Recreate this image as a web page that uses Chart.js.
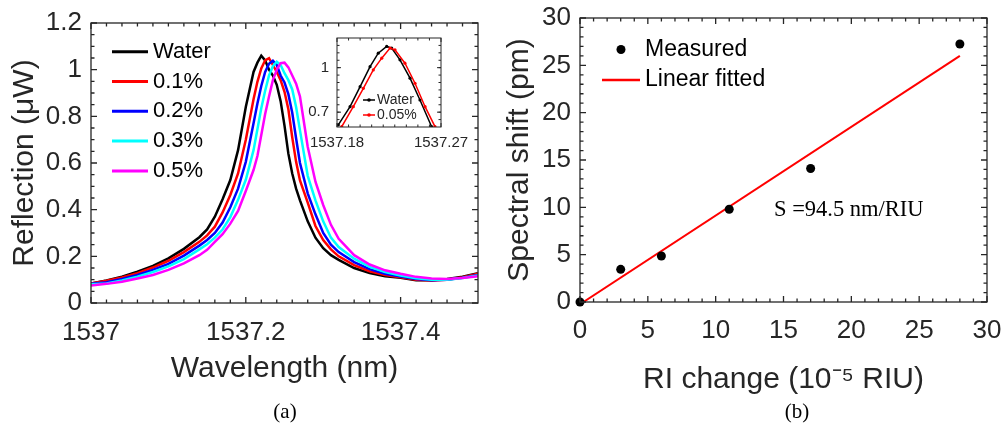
<!DOCTYPE html>
<html>
<head>
<meta charset="utf-8">
<title>Reflection spectra and RI sensitivity</title>
<script src="https://cdn.jsdelivr.net/npm/chart.js@4.4.1/dist/chart.umd.min.js"></script>
<style>
  html, body { margin: 0; padding: 0; background: #fff; }
  #wrap { position: relative; width: 1006px; height: 423px; overflow: hidden; }
  canvas { position: absolute; }
</style>
</head>
<body>
<div id="wrap">
  <canvas id="spectraChart" width="500" height="423" style="left:0;top:0;width:500px;height:423px"></canvas>
  <canvas id="insetChart" width="190" height="135" style="left:285px;top:20px;width:190px;height:135px"></canvas>
  <canvas id="shiftChart" width="506" height="423" style="left:500px;top:0;width:506px;height:423px"></canvas>
</div>
<script>
// ---- panel (a): reflection spectra ----
const wavelength = [1537.00, 1537.02, 1537.04, 1537.06, 1537.08, 1537.10, 1537.12, 1537.14, 1537.15, 1537.16,
  1537.17, 1537.18, 1537.19, 1537.20, 1537.21, 1537.215, 1537.22, 1537.225, 1537.23, 1537.235,
  1537.24, 1537.245, 1537.25, 1537.255, 1537.26, 1537.265, 1537.27, 1537.28, 1537.29, 1537.30,
  1537.31, 1537.32, 1537.34, 1537.36, 1537.38, 1537.40, 1537.42, 1537.44, 1537.46, 1537.48, 1537.50];

const reflWater = [0.084, 0.097, 0.113, 0.134, 0.159, 0.191, 0.232, 0.282, 0.315, 0.37,
  0.445, 0.527, 0.655, 0.84, 0.99, 1.03, 1.06, 1.04, 1.0, 0.975,
  0.935, 0.865, 0.76, 0.64, 0.555, 0.49, 0.44, 0.35, 0.28, 0.235,
  0.205, 0.185, 0.15, 0.128, 0.115, 0.108, 0.098, 0.097, 0.103, 0.113, 0.128];
const refl01 = [0.083, 0.095, 0.109, 0.128, 0.152, 0.181, 0.218, 0.262, 0.29, 0.327,
  0.388, 0.463, 0.555, 0.70, 0.873, 0.948, 1.005, 1.04, 1.049, 1.02,
  0.99, 0.955, 0.905, 0.83, 0.71, 0.605, 0.525, 0.43, 0.33, 0.27,
  0.23, 0.20, 0.162, 0.136, 0.12, 0.11, 0.10, 0.096, 0.10, 0.11, 0.125];
const refl02 = [0.082, 0.089, 0.103, 0.12, 0.142, 0.168, 0.203, 0.246, 0.27, 0.30,
  0.345, 0.41, 0.49, 0.605, 0.77, 0.855, 0.93, 0.99, 1.025, 1.038,
  1.02, 0.975, 0.945, 0.895, 0.815, 0.705, 0.60, 0.47, 0.38, 0.30,
  0.25, 0.218, 0.175, 0.145, 0.125, 0.113, 0.103, 0.098, 0.10, 0.108, 0.12];
const refl03 = [0.08, 0.084, 0.097, 0.113, 0.133, 0.157, 0.188, 0.23, 0.252, 0.28,
  0.315, 0.368, 0.442, 0.528, 0.655, 0.745, 0.835, 0.91, 0.975, 1.015,
  1.034, 1.02, 0.985, 0.955, 0.915, 0.84, 0.74, 0.545, 0.44, 0.35,
  0.28, 0.24, 0.19, 0.155, 0.133, 0.118, 0.106, 0.10, 0.10, 0.107, 0.118];
const refl05 = [0.075, 0.082, 0.091, 0.105, 0.12, 0.142, 0.17, 0.205, 0.228, 0.262,
  0.295, 0.34, 0.395, 0.48, 0.57, 0.63, 0.72, 0.81, 0.885, 0.955,
  1.0, 1.028, 1.03, 1.01, 0.975, 0.94, 0.885, 0.67, 0.52, 0.42,
  0.335, 0.275, 0.205, 0.165, 0.14, 0.125, 0.112, 0.105, 0.103, 0.107, 0.115];

const spectraLabels = ['Water', '0.1%', '0.2%', '0.3%', '0.5%'];
const spectraColors = ['#000000', '#ff0000', '#0000ff', '#00ffff', '#ff00ff'];
const spectraXTicks = [1537, 1537.2, 1537.4];
const spectraYTicks = [0, 0.2, 0.4, 0.6, 0.8, 1, 1.2];

// inset: peak close-up, water vs 0.05%
const insetWaterX = [1537.1811, 1537.1913, 1537.2, 1537.2086, 1537.2157, 1537.223, 1537.2273, 1537.2345, 1537.2432, 1537.2518, 1537.2619];
const insetWaterY = [0.614, 0.737, 0.872, 1.007, 1.098, 1.143, 1.132, 1.053, 0.929, 0.782, 0.602];
const inset005X = [1537.1841, 1537.1941, 1537.2028, 1537.2114, 1537.2187, 1537.2259, 1537.2302, 1537.2388, 1537.2475, 1537.2562, 1537.2648];
const inset005Y = [0.602, 0.737, 0.861, 0.985, 1.064, 1.132, 1.12, 1.03, 0.895, 0.737, 0.602];
const insetLabels = ['Water', '0.05%'];
const insetXTicks = [1537.18, 1537.27];
const insetYTicks = [0.7, 1];

// ---- panel (b): spectral shift vs RI change ----
const riChange = [0, 3, 6, 11, 17, 28];
const spectralShift = [0, 3.45, 4.86, 9.8, 14.1, 27.25];
const fitX = [0.25, 28];
const fitY = [0, 26.0];
const shiftTicks = [0, 5, 10, 15, 20, 25, 30];

const AXIS = '#262626';
Chart.defaults.font.family = "'Liberation Sans', Arial, Helvetica, sans-serif";
Chart.defaults.color = AXIS;

const toPoints = (xs, ys) => xs.map((x, i) => ({ x: x, y: ys[i] }));

// pin scale box size so the plot area lands where the original has it
function fixBox(w, h) {
  return scale => {
    if (w !== null) scale.width = w;
    if (h !== null) scale.height = h;
    scale.paddingLeft = scale.paddingRight = scale.paddingTop = scale.paddingBottom = 0;
  };
}
const useTicks = list => scale => { scale.ticks = list.map(v => ({ value: v })); };

// MATLAB style box with inward ticks on all four sides
function makeFrame(cfg) {
  return {
    id: 'boxFrame',
    beforeDatasetsDraw(chart) {
      if (!cfg.fill) return;
      const a = chart.chartArea, ctx = chart.ctx;
      ctx.save();
      ctx.fillStyle = cfg.fill;
      ctx.fillRect(a.left, a.top, a.width, a.height);
      ctx.restore();
    },
    afterDatasetsDraw(chart) {
      const { ctx, chartArea: a, scales: { x, y } } = chart;
      ctx.save();
      ctx.strokeStyle = AXIS;
      ctx.lineWidth = cfg.width;
      ctx.beginPath();
      const vTick = (v, len) => {
        const p = x.getPixelForValue(v);
        ctx.moveTo(p, a.bottom); ctx.lineTo(p, a.bottom - len);
        ctx.moveTo(p, a.top); ctx.lineTo(p, a.top + len);
      };
      const hTick = (v, len) => {
        const p = y.getPixelForValue(v);
        ctx.moveTo(a.left, p); ctx.lineTo(a.left + len, p);
        ctx.moveTo(a.right, p); ctx.lineTo(a.right - len, p);
      };
      const minor = (scale, step, fn) => {
        const n = Math.round((scale.max - scale.min) / step);
        for (let i = 1; i < n; i++) fn(scale.min + i * step, cfg.minorLen);
      };
      minor(x, cfg.xMinor, vTick);
      minor(y, cfg.yMinor, hTick);
      x.ticks.forEach(t => vTick(t.value, cfg.majorLen));
      y.ticks.forEach(t => hTick(t.value, cfg.majorLen));
      ctx.stroke();
      ctx.strokeRect(a.left, a.top, a.width, a.height);
      ctx.restore();
    }
  };
}

// legend drawn inside the plot area, one row per dataset
function makeLegend(cfg) {
  return {
    id: 'insideLegend',
    afterDatasetsDraw(chart) {
      const { ctx, chartArea: a } = chart;
      ctx.save();
      ctx.font = cfg.font;
      ctx.textAlign = 'left';
      ctx.textBaseline = 'middle';
      chart.data.datasets.forEach((ds, i) => {
        const cy = a.top + cfg.top + i * cfg.rowHeight;
        const x0 = a.left + cfg.left, x1 = x0 + cfg.lineLength;
        if (ds.showLine !== false) {
          ctx.strokeStyle = ds.borderColor;
          ctx.lineWidth = cfg.lineWidth;
          ctx.beginPath(); ctx.moveTo(x0, cy); ctx.lineTo(x1, cy); ctx.stroke();
        }
        if (ds.pointRadius > 0) {
          ctx.fillStyle = ds.pointBackgroundColor || ds.borderColor;
          ctx.beginPath(); ctx.arc((x0 + x1) / 2, cy, cfg.markerRadius, 0, Math.PI * 2); ctx.fill();
        }
        ctx.fillStyle = cfg.color;
        ctx.fillText(ds.label, x1 + cfg.gap, cy);
      });
      ctx.restore();
    }
  };
}

// free text: panel letters and the sensitivity note
function makeCaptions(items) {
  return {
    id: 'captions',
    afterDraw(chart) {
      const ctx = chart.ctx;
      items.forEach(it => {
        let px = it.x, py = it.y;
        if (it.inData) {
          px = chart.scales.x.getPixelForValue(it.x);
          py = chart.scales.y.getPixelForValue(it.y);
        }
        ctx.save();
        ctx.font = it.font;
        ctx.fillStyle = it.color;
        ctx.textAlign = it.align;
        ctx.textBaseline = 'middle';
        ctx.fillText(it.text, px, py);
        ctx.restore();
      });
    }
  };
}

const noGrid = { display: false, drawTicks: false };
const noBorder = { display: false };

// ---- chart (a) ----
const spectraSeries = [reflWater, refl01, refl02, refl03, refl05];
new Chart(document.getElementById('spectraChart'), {
  type: 'line',
  data: {
    datasets: spectraSeries.map((vals, i) => ({
      label: spectraLabels[i],
      data: toPoints(wavelength, vals),
      borderColor: spectraColors[i],
      borderWidth: 2.5,
      pointRadius: 0,
      tension: 0,
      order: spectraSeries.length - i
    }))
  },
  options: {
    responsive: false,
    animation: false,
    events: [],
    layout: { padding: { left: 0, top: 23, right: 22, bottom: 0 } },
    plugins: { legend: { display: false }, tooltip: { enabled: false } },
    scales: {
      x: {
        type: 'linear', min: 1537, max: 1537.5,
        afterBuildTicks: useTicks(spectraXTicks),
        afterFit: fixBox(null, 120),
        grid: noGrid, border: noBorder,
        ticks: { padding: 14, maxRotation: 0, autoSkip: false, font: { size: 26 }, callback: v => String(v) },
        title: { display: true, text: 'Wavelength (nm)', font: { size: 30 }, padding: { top: 0, bottom: 36 } }
      },
      y: {
        type: 'linear', min: 0, max: 1.2,
        afterBuildTicks: useTicks(spectraYTicks),
        afterFit: fixBox(91, null),
        grid: noGrid, border: noBorder,
        ticks: { padding: 9, autoSkip: false, font: { size: 26 }, callback: v => String(v) },
        title: { display: true, text: 'Reflection (μW)', font: { size: 30 }, padding: { top: 7, bottom: 0 } }
      }
    }
  },
  plugins: [
    makeFrame({ width: 1.3, majorLen: 6, minorLen: 3.5, xMinor: 0.02, yMinor: 0.05 }),
    makeLegend({ left: 21, top: 28.7, rowHeight: 29.8, lineLength: 36, gap: 5, lineWidth: 3, markerRadius: 0, font: "22px 'Liberation Sans', Arial, sans-serif", color: '#000' }),
    makeCaptions([{ text: '(a)', x: 285, y: 412, font: "21px 'Liberation Serif', 'Times New Roman', serif", color: '#000', align: 'center' }])
  ]
});

// ---- inset of (a) ----
new Chart(document.getElementById('insetChart'), {
  type: 'line',
  data: {
    datasets: [
      { label: insetLabels[0], data: toPoints(insetWaterX, insetWaterY), borderColor: '#000', pointBackgroundColor: '#000',
        borderWidth: 1.5, pointRadius: 1.6, pointBorderWidth: 0, tension: 0, order: 2 },
      { label: insetLabels[1], data: toPoints(inset005X, inset005Y), borderColor: '#ff0000', pointBackgroundColor: '#ff0000',
        borderWidth: 1.5, pointRadius: 1.6, pointBorderWidth: 0, tension: 0, order: 1 }
    ]
  },
  options: {
    responsive: false,
    animation: false,
    events: [],
    layout: { padding: { left: 0, top: 18, right: 34, bottom: 0 } },
    plugins: { legend: { display: false }, tooltip: { enabled: false } },
    scales: {
      x: {
        type: 'linear', min: 1537.18, max: 1537.27,
        afterBuildTicks: useTicks(insetXTicks),
        afterFit: fixBox(null, 28),
        grid: noGrid, border: noBorder,
        ticks: { padding: 7, maxRotation: 0, autoSkip: false, font: { size: 15 }, callback: v => String(v) }
      },
      y: {
        type: 'linear', min: 0.6, max: 1.2,
        afterBuildTicks: useTicks(insetYTicks),
        afterFit: fixBox(52, null),
        grid: noGrid, border: noBorder,
        ticks: { padding: 8, autoSkip: false, font: { size: 15 }, callback: v => String(v) }
      }
    }
  },
  plugins: [
    makeFrame({ width: 1, majorLen: 4, minorLen: 2.5, xMinor: 0.01, yMinor: 0.05, fill: '#fff' }),
    makeLegend({ left: 26, top: 62, rowHeight: 15, lineLength: 12, gap: 2, lineWidth: 1.5, markerRadius: 1.8, font: "14px 'Liberation Sans', Arial, sans-serif", color: AXIS })
  ]
});

// ---- chart (b) ----
new Chart(document.getElementById('shiftChart'), {
  type: 'scatter',
  data: {
    datasets: [
      { label: 'Measured', data: toPoints(riChange, spectralShift), showLine: false,
        pointRadius: 4.5, backgroundColor: '#000', borderColor: '#000', pointBorderWidth: 0, clip: false, order: 1 },
      { label: 'Linear fitted', data: toPoints(fitX, fitY), showLine: true,
        pointRadius: 0, borderColor: '#ff0000', borderWidth: 2, order: 2 }
    ]
  },
  options: {
    responsive: false,
    animation: false,
    events: [],
    layout: { padding: { left: 0, top: 18, right: 19, bottom: 0 } },
    plugins: { legend: { display: false }, tooltip: { enabled: false } },
    scales: {
      x: {
        type: 'linear', min: 0, max: 30,
        afterBuildTicks: useTicks(shiftTicks),
        afterFit: fixBox(null, 121),
        grid: noGrid, border: noBorder,
        ticks: { padding: 13, maxRotation: 0, autoSkip: false, font: { size: 26 } },
        title: { display: true, text: 'RI change (10⁻⁵ RIU)', font: { size: 30 }, padding: { top: 0, bottom: 25 } }
      },
      y: {
        type: 'linear', min: 0, max: 30,
        afterBuildTicks: useTicks(shiftTicks),
        afterFit: fixBox(80, null),
        grid: noGrid, border: noBorder,
        ticks: { padding: 9, autoSkip: false, font: { size: 26 } },
        title: { display: true, text: 'Spectral shift (pm)', font: { size: 30 }, padding: { top: 2, bottom: 0 } }
      }
    }
  },
  plugins: [
    makeFrame({ width: 1.3, majorLen: 6, minorLen: 3.5, xMinor: 1, yMinor: 1 }),
    makeLegend({ left: 22, top: 31.5, rowHeight: 30.5, lineLength: 38, gap: 5, lineWidth: 2.5, markerRadius: 4.5, font: "23px 'Liberation Sans', Arial, sans-serif", color: '#000' }),
    makeCaptions([
      { text: 'S =94.5 nm/RIU', x: 14.3, y: 9.7, inData: true, font: "22.5px 'Liberation Serif', 'Times New Roman', serif", color: '#000', align: 'left' },
      { text: '(b)', x: 297, y: 412, font: "21px 'Liberation Serif', 'Times New Roman', serif", color: '#000', align: 'center' }
    ])
  ]
});
</script>
</body>
</html>
